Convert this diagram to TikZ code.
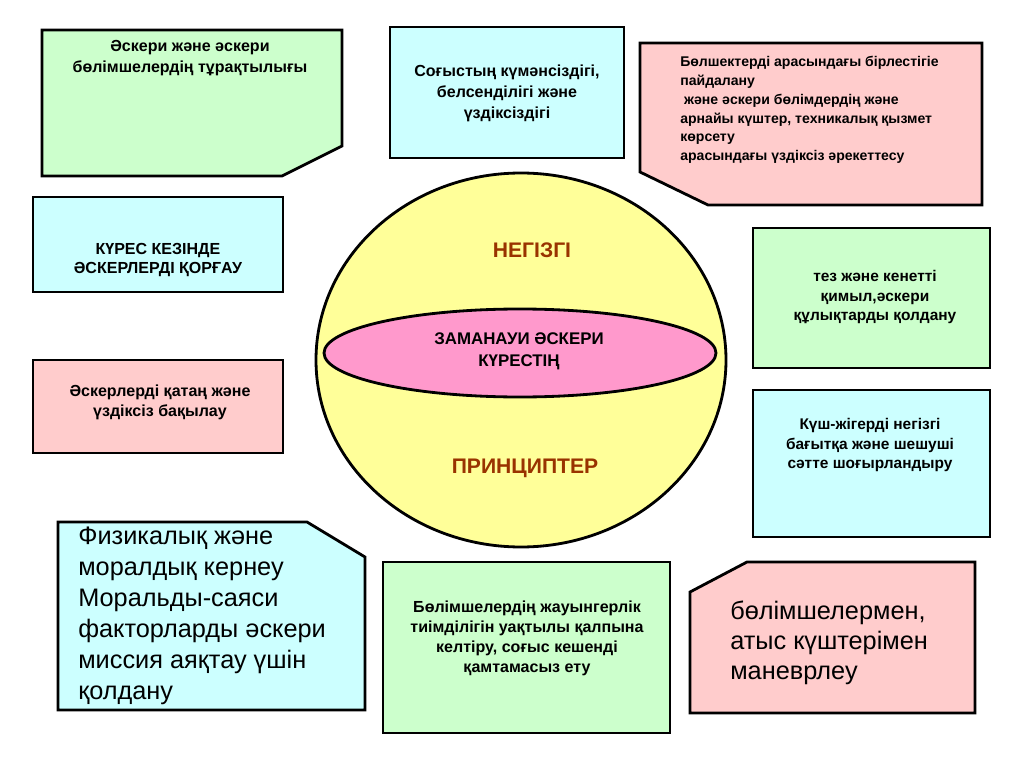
\documentclass[tikz,border=0pt]{standalone}
\usepackage{fontspec}
\setmainfont{Liberation Sans}

\definecolor{boxgreen}{HTML}{CCFFCC}
\definecolor{boxcyan}{HTML}{CCFFFF}
\definecolor{boxpink}{HTML}{FFCCCC}
\definecolor{ballyellow}{HTML}{FFFF99}
\definecolor{bandpink}{HTML}{FF99CC}
\definecolor{titlebrown}{HTML}{993300}

\tikzset{
  panel/.style={draw=black, line width=2pt, line join=miter},
  txt/.style={font=\bfseries\fontsize{11.4}{15}\selectfont, align=center, inner sep=0pt},
  smalltxt/.style={font=\bfseries\fontsize{10}{13.4}\selectfont, align=left, inner sep=0pt},
  bigtxt/.style={font=\fontsize{18}{22}\selectfont, align=left, inner sep=0pt},
  title/.style={font=\bfseries\fontsize{15}{18}\selectfont, text=titlebrown, inner sep=0pt}
}

\begin{document}
\begin{tikzpicture}[x=0.025cm, y=-0.025cm]

\useasboundingbox[fill=white] (0,0) rectangle (1024,767);

% Ball in the middle
\def\cx{521}
\def\cy{360}
\draw[panel, fill=ballyellow] (\cx,\cy) ellipse [x radius=205, y radius=187];
\draw[panel, fill=bandpink] (520,353) ellipse [x radius=196, y radius=44];
\node[title] (basic) at (532,250) {НЕГІЗГІ};
\node[title] (principles) at (525,468) {ПРИНЦИПТЕР};
\node[txt, font=\bfseries\fontsize{12}{15.6}\selectfont] (modern) at (519,351) {ЗАМАНАУИ ӘСКЕРИ\\КҮРЕСТІҢ};

% Top row
\draw[panel, fill=boxgreen] (42,30) -- (342,30) -- (342,146) -- (282,176) -- (42,176) -- cycle;
\node[txt] (stab) at (190,58) {Әскери және әскери\\бөлімшелердің тұрақтылығы};

\draw[panel, fill=boxcyan] (390,27) rectangle (624,158);
\node[txt] (war) at (507,93) {Соғыстың күмәнсіздігі,\\белсенділігі және\\үздіксіздігі};

\draw[panel, fill=boxpink] (640,43) -- (982,43) -- (982,205) -- (708,205) -- (640,172) -- cycle;
\node[smalltxt, anchor=west] (coop) at (680,110) {Бөлшектерді арасындағы бірлестігіе\\пайдалану\\\ және әскери бөлімдердің және\\арнайы күштер, техникалық қызмет\\көрсету\\арасындағы үздіксіз әрекеттесу};

% Left column
\draw[panel, fill=boxcyan] (33,197) rectangle (283,292);
\node[txt, font=\bfseries\fontsize{11.4}{14.2}\selectfont] (protect) at (158,260) {КҮРЕС КЕЗІНДЕ\\ӘСКЕРЛЕРДІ ҚОРҒАУ};

\draw[panel, fill=boxpink] (33,360) rectangle (283,453);
\node[txt, font=\bfseries\fontsize{11.4}{14.2}\selectfont] (control) at (160,402) {Әскерлерді қатаң және\\үздіксіз бақылау};

% Right column
\draw[panel, fill=boxgreen] (753,228) rectangle (990,368);
\node[txt, font=\bfseries\fontsize{11}{14.2}\selectfont] (swift) at (875,297) {тез және кенетті\\қимыл,әскери\\құлықтарды қолдану};

\draw[panel, fill=boxcyan] (753,390) rectangle (990,537);
\node[txt, font=\bfseries\fontsize{11}{14.2}\selectfont] (mass) at (870,445) {Күш-жігерді негізгі\\бағытқа және шешуші\\сәтте шоғырландыру};

% Bottom row
\draw[panel, fill=boxcyan] (58,522) -- (307,522) -- (365,557) -- (365,710) -- (58,710) -- cycle;
\node[bigtxt, anchor=west] (moral) at (78,616) {Физикалық және\\моралдық кернеу\\Моральды-саяси\\факторларды әскери\\миссия аяқтау үшін\\қолдану};

\draw[panel, fill=boxgreen] (383,562) rectangle (670,733);
\node[txt, font=\bfseries\fontsize{11.4}{14.2}\selectfont] (restore) at (527,638) {Бөлімшелердің жауынгерлік\\тиімділігін уақтылы қалпына\\келтіру, соғыс кешенді\\қамтамасыз ету};

\draw[panel, fill=boxpink] (690,592) -- (747,562) -- (975,562) -- (975,713) -- (690,713) -- cycle;
\node[bigtxt, anchor=west, font=\fontsize{18}{21.5}\selectfont] (manoeuvre) at (730,643) {бөлімшелермен,\\атыс күштерімен\\маневрлеу};

\end{tikzpicture}
\end{document}
